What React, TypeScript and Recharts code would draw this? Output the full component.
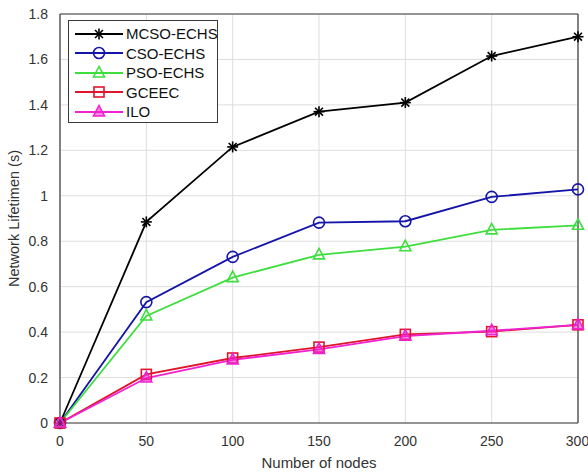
import React from "react";
import {
  LineChart,
  Line,
  XAxis,
  YAxis,
  CartesianGrid,
  ReferenceLine,
} from "recharts";

const nodes = [0, 50, 100, 150, 200, 250, 300];
const mcsoEchs = [0, 0.885, 1.215, 1.37, 1.41, 1.615, 1.7];
const csoEchs = [0, 0.532, 0.731, 0.882, 0.888, 0.995, 1.028];
const psoEchs = [0, 0.471, 0.64, 0.74, 0.776, 0.85, 0.87];
const gceec = [0, 0.214, 0.286, 0.334, 0.39, 0.402, 0.432];
const ilo = [0, 0.198, 0.278, 0.324, 0.382, 0.406, 0.432];

const xTicks = [0, 50, 100, 150, 200, 250, 300];
const yTicks = [0, 0.2, 0.4, 0.6, 0.8, 1, 1.2, 1.4, 1.6, 1.8];

const data = nodes.map((n, i) => ({
  n,
  mcso: mcsoEchs[i],
  cso: csoEchs[i],
  pso: psoEchs[i],
  gceec: gceec[i],
  ilo: ilo[i],
}));

type MarkerKind = "star" | "circle" | "triangle" | "square" | "triangleFill";

const series: { key: string; name: string; color: string; marker: MarkerKind }[] = [
  { key: "mcso", name: "MCSO-ECHS", color: "#000000", marker: "star" },
  { key: "cso", name: "CSO-ECHS", color: "#1414a8", marker: "circle" },
  { key: "pso", name: "PSO-ECHS", color: "#3ede3e", marker: "triangle" },
  { key: "gceec", name: "GCEEC", color: "#e0142c", marker: "square" },
  { key: "ilo", name: "ILO", color: "#f022d2", marker: "triangleFill" },
];

const AXIS = "#3a3a3a";
const TEXT = "#333333";
const FONT = "'Liberation Sans', Arial, Helvetica, sans-serif";

function Marker({ cx, cy, kind, color }: { cx: number; cy: number; kind: MarkerKind; color: string }) {
  const r = 5.5;
  if (kind === "star") {
    const d = r * 0.72;
    return (
      <g stroke={color} strokeWidth={1.6}>
        <line x1={cx - r} y1={cy} x2={cx + r} y2={cy} />
        <line x1={cx} y1={cy - r} x2={cx} y2={cy + r} />
        <line x1={cx - d} y1={cy - d} x2={cx + d} y2={cy + d} />
        <line x1={cx - d} y1={cy + d} x2={cx + d} y2={cy - d} />
      </g>
    );
  }
  if (kind === "circle") {
    return <circle cx={cx} cy={cy} r={r} fill="none" stroke={color} strokeWidth={1.6} />;
  }
  if (kind === "square") {
    return (
      <rect x={cx - r + 0.5} y={cy - r + 0.5} width={2 * r - 1} height={2 * r - 1} fill="none" stroke={color} strokeWidth={1.6} />
    );
  }
  const pts = `${cx},${cy - r - 1} ${cx - r},${cy + r - 1.5} ${cx + r},${cy + r - 1.5}`;
  return (
    <polygon
      points={pts}
      fill={kind === "triangleFill" ? color : "none"}
      fillOpacity={kind === "triangleFill" ? 0.55 : 1}
      stroke={color}
      strokeWidth={1.6}
    />
  );
}

const fmtY = (v: number) => String(Number(v.toFixed(1)));

// legend box drawn over the top-left corner of the plot
function LegendBox() {
  return (
    <div
      style={{
        position: "absolute",
        left: 68,
        top: 20,
        border: `1px solid ${AXIS}`,
        background: "#fff",
        width: 150,
        height: 103,
        boxSizing: "border-box",
        paddingTop: 3,
        fontFamily: FONT,
        fontSize: 15,
        color: "#111",
      }}
    >
      {series.map((s) => (
        <div key={s.key} style={{ display: "flex", alignItems: "center", height: 19.5, whiteSpace: "nowrap" }}>
          <svg width={50} height={18} style={{ marginLeft: 5, flex: "none" }}>
            <line x1={1} y1={9} x2={49} y2={9} stroke={s.color} strokeWidth={2} />
            <Marker cx={25} cy={9} kind={s.marker} color={s.color} />
          </svg>
          <span style={{ marginLeft: 2 }}>{s.name}</span>
        </div>
      ))}
    </div>
  );
}

export default function App() {
  return (
    <div style={{ position: "absolute", left: 0, top: 0, width: 588, height: 472, background: "#fff" }}>
      <LineChart
        width={588}
        height={472}
        data={data}
        margin={{ top: 14, right: 10, left: 0, bottom: 0 }}
        style={{ fontFamily: FONT }}
      >
        <CartesianGrid stroke="#dedede" strokeWidth={1} />
        <XAxis
          dataKey="n"
          type="number"
          domain={[0, 300]}
          ticks={xTicks}
          tickLine={false}
          stroke={AXIS}
          strokeWidth={1.2}
          tick={{ fill: TEXT, fontSize: 14 }}
          tickMargin={7}
          height={49}
          label={{ value: "Number of nodes", position: "insideBottom", offset: 4, fill: TEXT, fontSize: 15 }}
        />
        <YAxis
          type="number"
          domain={[0, 1.8]}
          ticks={yTicks}
          tickFormatter={fmtY}
          tickLine={false}
          stroke={AXIS}
          strokeWidth={1.2}
          tick={{ fill: TEXT, fontSize: 14 }}
          tickMargin={6}
          width={60}
          label={{
            value: "Network Lifetimen (s)",
            angle: -90,
            position: "insideLeft",
            offset: 14,
            style: { textAnchor: "middle" },
            fill: TEXT,
            fontSize: 14.5,
          }}
        />
        <ReferenceLine y={1.8} stroke={AXIS} strokeWidth={1.2} />
        <ReferenceLine x={300} stroke={AXIS} strokeWidth={1.2} />
        {series.map((s) => (
          <Line
            key={s.key}
            dataKey={s.key}
            name={s.name}
            stroke={s.color}
            strokeWidth={1.8}
            isAnimationActive={false}
            dot={(p: any) => (
              <Marker key={`${s.key}-${p.index}`} cx={p.cx} cy={p.cy} kind={s.marker} color={s.color} />
            )}
            activeDot={false}
          />
        ))}
      </LineChart>
      <LegendBox />
    </div>
  );
}
